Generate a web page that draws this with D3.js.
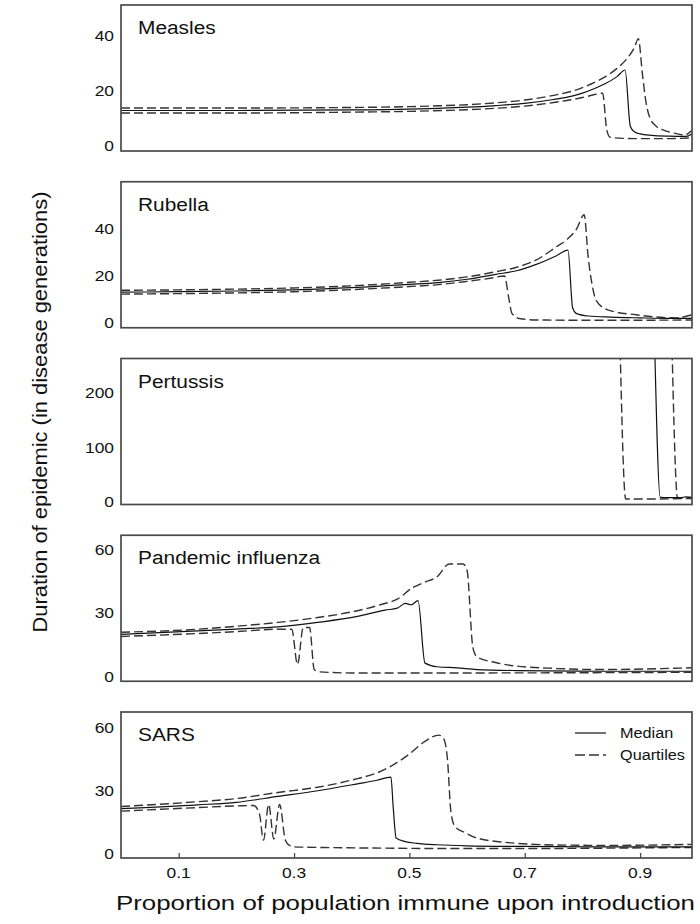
<!DOCTYPE html>
<html>
<head>
<meta charset="utf-8">
<script src="https://cdn.jsdelivr.net/npm/d3@7"></script>
<style>
  body { margin: 0; background: #fff; }
  svg { display: block; }
  text { font-family: "Liberation Sans", Arial, Helvetica, sans-serif; fill: #111; }
</style>
</head>
<body>
<svg id="chart" width="700" height="924"></svg>
<script>
// Proportion immune at introduction (x) vs. epidemic duration in disease generations (y)
const xTickValues = [0.1, 0.3, 0.5, 0.7, 0.9];
const diseaseNames = ["Measles", "Rubella", "Pertussis", "Pandemic influenza", "SARS"];

const measlesTicks = [0, 20, 40];
const rubellaTicks = [0, 20, 40];
const pertussisTicks = [0, 100, 200];
const influenzaTicks = [0, 30, 60];
const sarsTicks = [0, 30, 60];

const measlesRange = [-2, 51];
const rubellaRange = [-2, 60];
const pertussisRange = [-5, 263];
const influenzaRange = [-2, 66.5];
const sarsRange = [-2, 67.5];

// [proportion immune, duration]
const measlesMedian = [[0,12.7],[0.2,12.7],[0.4,12.9],[0.5,13.2],[0.55,13.5],[0.6,13.9],[0.65,14.5],[0.7,15.3],[0.75,16.7],[0.78,17.8],[0.8,19],[0.82,20.6],[0.84,22.5],[0.86,25],[0.874,27.4],[0.883,7],[0.89,5],[0.9,4.2],[0.92,3.7],[0.95,3.4],[0.98,3.3],[0.99,4.3]];
const measlesUpper = [[0,13.6],[0.2,13.6],[0.4,13.8],[0.5,14.1],[0.55,14.4],[0.6,14.8],[0.65,15.5],[0.7,16.5],[0.75,18.2],[0.78,19.6],[0.8,21],[0.82,22.8],[0.84,25],[0.86,28],[0.875,31],[0.89,35.5],[0.897,38.8],[0.904,26],[0.91,16],[0.917,10],[0.928,7],[0.942,5.5],[0.963,4.3],[0.977,3.8],[0.99,5.5]];
const measlesLower = [[0,11.8],[0.2,11.8],[0.4,12.1],[0.5,12.4],[0.6,13],[0.65,13.5],[0.7,14.3],[0.75,15.6],[0.78,16.6],[0.8,17.4],[0.82,18.4],[0.835,19],[0.842,6],[0.848,3],[0.87,2.6],[0.9,2.5],[0.95,2.5],[0.99,2.8]];

const rubellaMedian = [[0,13.1],[0.1,13.3],[0.2,13.6],[0.3,14.1],[0.4,15],[0.5,16.4],[0.55,17.2],[0.6,18.6],[0.65,20.7],[0.686,22.2],[0.72,24.9],[0.755,28.6],[0.775,31],[0.783,6.5],[0.79,4],[0.81,3],[0.85,2.5],[0.9,2.2],[0.95,2],[0.99,2]];
const rubellaUpper = [[0,13.9],[0.1,14.1],[0.2,14.4],[0.3,14.9],[0.4,15.8],[0.5,17.3],[0.55,18.2],[0.6,19.6],[0.65,21.8],[0.686,23.7],[0.72,26.8],[0.755,32.4],[0.773,35.4],[0.79,40],[0.803,46],[0.81,28],[0.817,16],[0.824,9.5],[0.845,5.5],[0.893,3.5],[0.962,2.2],[0.99,3.5]];
const rubellaLower = [[0,12.3],[0.1,12.5],[0.2,12.8],[0.3,13.3],[0.4,14.2],[0.5,15.5],[0.55,16.3],[0.6,17.7],[0.64,19],[0.665,20],[0.672,11],[0.678,4],[0.693,1.8],[0.72,1.3],[0.8,1.2],[0.9,1.2],[0.99,1.3]];

// Pertussis durations run off the top of the scale before each drop
const pertussisMedian = [[0.925,300],[0.935,8],[0.95,7.5],[0.97,7.5],[0.98,9],[0.99,8]];
const pertussisUpper = [[0.955,300],[0.965,7],[0.98,7],[0.99,8]];
const pertussisLower = [[0.865,300],[0.875,5],[0.9,5],[0.93,5],[0.96,5.5],[0.99,6]];

const influenzaMedian = [[0,20],[0.133,21.6],[0.2,22.5],[0.272,23.5],[0.341,25.6],[0.41,28.4],[0.458,31.4],[0.479,32.3],[0.493,34.5],[0.503,33.9],[0.515,35.8],[0.527,6.5],[0.548,4.8],[0.582,4.3],[0.617,3.5],[0.686,3],[0.824,2.7],[0.99,2.7]];
const influenzaUpper = [[0,21],[0.133,22.4],[0.2,23.8],[0.272,25.6],[0.341,27.9],[0.41,31.1],[0.451,34],[0.479,36.5],[0.506,42],[0.527,44.5],[0.548,47],[0.569,53],[0.593,53],[0.6,50],[0.61,14],[0.617,9.5],[0.651,6.7],[0.686,5.1],[0.755,4],[0.824,3.5],[0.99,4.3]];
const influenzaLower = [[0,19],[0.133,20.4],[0.2,21.3],[0.272,22.4],[0.296,22.4],[0.306,5.9],[0.316,23.2],[0.327,23.2],[0.335,3.5],[0.344,2.4],[0.4,1.9],[0.6,1.9],[0.8,2],[0.99,2.2]];

const sarsMedian = [[0,21.5],[0.133,23.3],[0.2,24.5],[0.272,27.3],[0.341,30],[0.41,33.3],[0.444,35],[0.468,36.5],[0.472,22],[0.477,7.5],[0.493,5.8],[0.513,5],[0.548,4.3],[0.6,3.8],[0.7,3.5],[0.85,3.3],[0.99,3.3]];
const sarsUpper = [[0,22.5],[0.133,24.8],[0.2,26.3],[0.272,29.2],[0.341,31.7],[0.41,35.8],[0.444,38.5],[0.479,43.5],[0.5,47.5],[0.527,53.5],[0.551,56.5],[0.56,54.5],[0.566,45],[0.572,20],[0.579,13],[0.597,10],[0.617,7.5],[0.686,5],[0.755,4.2],[0.85,4],[0.99,4.5]];
const sarsLower = [[0,20.3],[0.133,22],[0.2,22.8],[0.23,23],[0.24,19],[0.247,6.5],[0.256,23.5],[0.265,7],[0.275,23.5],[0.285,6.5],[0.292,4],[0.3,3.3],[0.35,3],[0.45,2.7],[0.55,2.5],[0.7,2.5],[0.85,2.7],[0.99,3]];

const legendLabels = ["Median", "Quartiles"];

const panels = [
  { name: diseaseNames[0], ticks: measlesTicks, range: measlesRange, median: measlesMedian, quartiles: [measlesUpper, measlesLower] },
  { name: diseaseNames[1], ticks: rubellaTicks, range: rubellaRange, median: rubellaMedian, quartiles: [rubellaUpper, rubellaLower] },
  { name: diseaseNames[2], ticks: pertussisTicks, range: pertussisRange, median: pertussisMedian, quartiles: [pertussisUpper, pertussisLower] },
  { name: diseaseNames[3], ticks: influenzaTicks, range: influenzaRange, median: influenzaMedian, quartiles: [influenzaUpper, influenzaLower] },
  { name: diseaseNames[4], ticks: sarsTicks, range: sarsRange, median: sarsMedian, quartiles: [sarsUpper, sarsLower] }
];

// Layout
const left = 121, right = 692;
const firstTop = 5, panelStep = 176.75, panelHeight = 146;
const stretch = 1.16;      // type is set slightly wide
const frameColor = "#4a4a4a";
const dash = "9,4";

const svg = d3.select("#chart");
const x = d3.scaleLinear().domain([0, 0.99]).range([left, right]);

function wideText(g, tx, ty, str) {
  return g.append("text")
    .attr("transform", `translate(${tx},${ty}) scale(${stretch},1)`)
    .text(str);
}

panels.forEach((p, i) => {
  const top = firstTop + i * panelStep;
  const bottom = top + panelHeight;
  const y = d3.scaleLinear().domain(p.range).range([bottom, top]);
  const g = svg.append("g");

  const clipId = "clip" + i;
  svg.append("clipPath").attr("id", clipId)
    .append("rect").attr("x", left).attr("y", top)
    .attr("width", right - left).attr("height", panelHeight);

  const line = d3.line()
    .x(d => x(d[0]))
    .y(d => y(d[1]))
    .curve(d3.curveMonotoneX);

  const plot = g.append("g").attr("clip-path", `url(#${clipId})`);
  p.quartiles.forEach(q => {
    plot.append("path")
      .attr("d", line(q))
      .attr("fill", "none")
      .attr("stroke", "#333")
      .attr("stroke-width", 1.4)
      .attr("stroke-dasharray", dash);
  });
  plot.append("path")
    .attr("d", line(p.median))
    .attr("fill", "none")
    .attr("stroke", "#111")
    .attr("stroke-width", 1.2);

  // y-axis labels
  const yAxis = d3.axisLeft(y).tickValues(p.ticks).tickSize(0).tickPadding(0);
  const ya = g.append("g").attr("transform", `translate(${left},0)`).call(yAxis);
  ya.select(".domain").remove();
  ya.selectAll("text").remove();
  p.ticks.forEach(t => {
    wideText(g, 114, y(t), t)
      .attr("text-anchor", "end")
      .attr("dy", "0.36em")
      .attr("font-size", 15);
  });

  // panel frame
  g.append("rect")
    .attr("x", left).attr("y", top)
    .attr("width", right - left).attr("height", panelHeight)
    .attr("fill", "none")
    .attr("stroke", frameColor)
    .attr("stroke-width", 1.7);

  // disease name
  wideText(g, 138, top + 29, p.name).attr("font-size", 18);

  if (i === panels.length - 1) {
    const xAxis = d3.axisBottom(x).tickValues(xTickValues).tickSize(-5).tickFormat(() => "");
    const xa = g.append("g").attr("transform", `translate(0,${bottom})`).call(xAxis);
    xa.select(".domain").remove();
    xa.selectAll(".tick line").attr("stroke", frameColor).attr("stroke-width", 1.3);
    xTickValues.forEach(t => {
      wideText(g, x(t), 878, d3.format(".1f")(t))
        .attr("text-anchor", "middle")
        .attr("font-size", 15);
    });

    // legend
    const lg = g.append("g");
    lg.append("line").attr("x1", 575).attr("x2", 606).attr("y1", top + 21).attr("y2", top + 21)
      .attr("stroke", "#111").attr("stroke-width", 1.2);
    lg.append("line").attr("x1", 575).attr("x2", 606).attr("y1", top + 43).attr("y2", top + 43)
      .attr("stroke", "#333").attr("stroke-width", 1.3).attr("stroke-dasharray", "10,4");
    wideText(lg, 620, top + 26, legendLabels[0]).attr("font-size", 14);
    wideText(lg, 620, top + 48, legendLabels[1]).attr("font-size", 14);
  }
});

// axis titles
svg.append("text")
  .attr("x", (left + right) / 2 - 1)
  .attr("y", 910)
  .attr("text-anchor", "middle")
  .attr("font-size", 21)
  .attr("textLength", 579)
  .attr("lengthAdjust", "spacingAndGlyphs")
  .text("Proportion of population immune upon introduction");

svg.append("text")
  .attr("transform", "translate(47,412) rotate(-90)")
  .attr("text-anchor", "middle")
  .attr("font-size", 20)
  .attr("textLength", 441)
  .attr("lengthAdjust", "spacingAndGlyphs")
  .text("Duration of epidemic (in disease generations)");
</script>
</body>
</html>
